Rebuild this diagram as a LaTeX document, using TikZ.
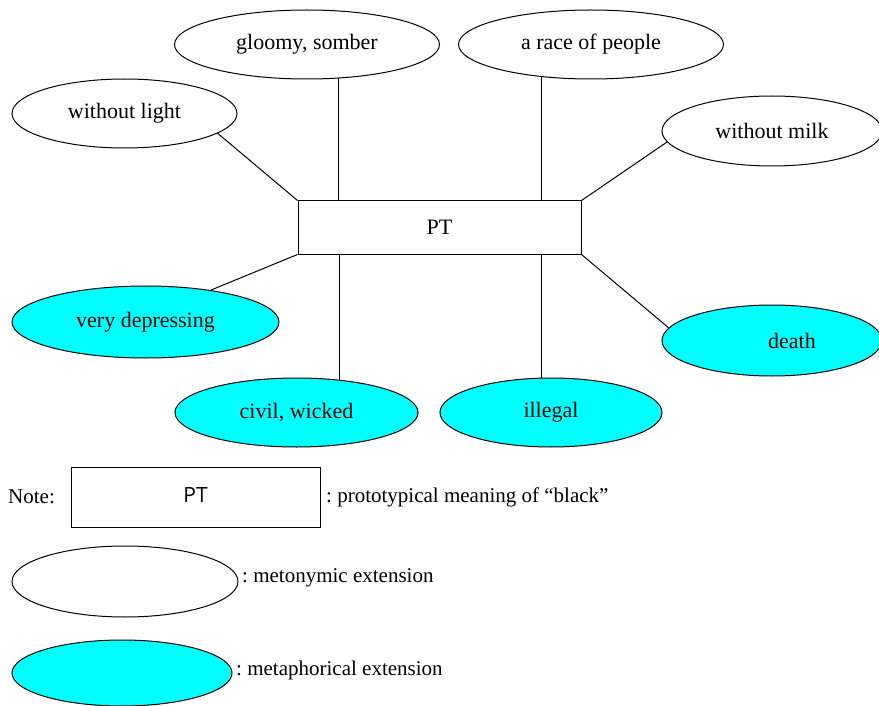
\documentclass[tikz,border=0pt]{standalone}
\usepackage{fontspec}
\setmainfont{Liberation Serif}
\newfontfamily\ptsans{Open Sans}
\usetikzlibrary{shapes.geometric}
\definecolor{metacyan}{HTML}{00FFFF}
\frenchspacing
\tikzset{
  base/.style={draw=black, line width=1pt, inner sep=0pt, font=\fontsize{22}{26}\selectfont},
  metonym/.style={base, ellipse, fill=white},
  metaphor/.style={base, ellipse, fill=metacyan},
  ptbox/.style={base, rectangle, fill=white},
  link/.style={draw=black, line width=1pt},
  legendtext/.style={inner sep=0pt, anchor=west, font=\fontsize{21}{25}\selectfont}
}
\begin{document}
\begin{tikzpicture}[x=1pt, y=-1pt]
\useasboundingbox (0,0) rectangle (879,706);
% central box
\node[ptbox, minimum width=283pt, minimum height=53pt] (pt) at (439.5,227.5) {PT};
% metonymic ellipses
\node[metonym, minimum width=265pt, minimum height=69pt] (gl) at (307,44.5) {gloomy, somber};
\node[metonym, minimum width=265pt, minimum height=69pt] (rc) at (591,44.5) {a race of people};
\node[metonym, minimum width=225pt, minimum height=69pt] (wl) at (124.5,113.5) {without light};
\node[metonym, minimum width=220pt, minimum height=70pt] (wm) at (772,131) {without milk};
% metaphorical ellipses
\node[metaphor, minimum width=267pt, minimum height=72pt] (vd) at (145.5,322) {very depressing};
\node[metaphor, minimum width=243pt, minimum height=69pt] (cw) at (296.5,412.5) {civil, wicked};
\node[metaphor, minimum width=222pt, minimum height=69pt] (il) at (551,412.5) {illegal};
\node[metaphor, minimum width=220pt, minimum height=71pt] (de) at (772,340.5) {\hspace*{40pt}death};
% connectors
\draw[link] (pt.north west) -- (wl.-12);
\draw[link] (gl.-47.2) -- (gl.-47.2 |- pt.north);
\draw[link] (rc.-147.5) -- (rc.-147.5 |- pt.north);
\draw[link] (pt.north east) -- (wm.186.5);
\draw[link] (pt.south west) -- (vd.26);
\draw[link] (cw.37.6) -- (cw.37.6 |- pt.south);
\draw[link] (il.106.2) -- (il.106.2 |- pt.south);
\draw[link] (pt.south east) -- (de.173.3);
% legend
\node[legendtext] (note) at (8,497) {Note:};
\node[base, rectangle, minimum width=249pt, minimum height=60pt, font=\ptsans\fontsize{21}{25}\selectfont] (lgbox) at (195.5,497) {\raisebox{3pt}{PT}};
\node[legendtext] (lgboxtxt) at (326,497) {: prototypical meaning of “black”};
\node[metonym, minimum width=226pt, minimum height=71pt] (lgwhite) at (125,581.5) {};
\node[legendtext] (lgwhitetxt) at (242,578) {: metonymic extension};
\node[metaphor, minimum width=220pt, minimum height=66pt] (lgcyan) at (122,673) {};
\node[legendtext] (lgcyantxt) at (236,670) {: metaphorical extension};
\end{tikzpicture}
\end{document}
